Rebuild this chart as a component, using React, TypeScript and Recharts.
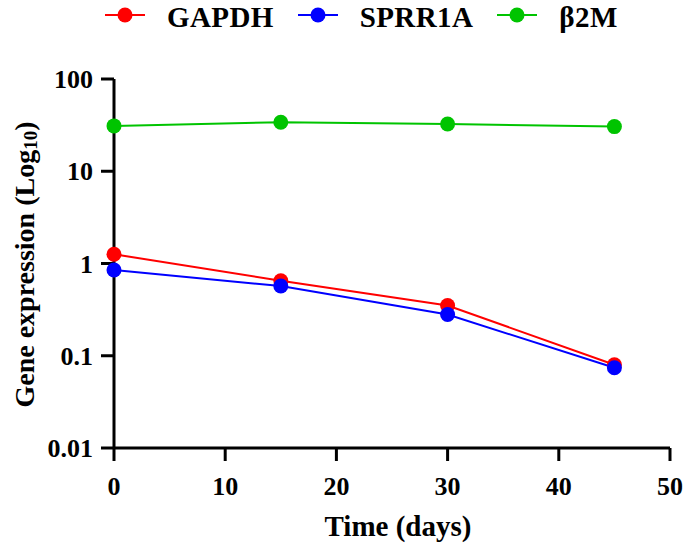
import React from "react";
import { Line, LineChart, XAxis, YAxis } from "recharts";

const days = [0, 15, 30, 45];
const gapdh = [1.26, 0.65, 0.35, 0.08];
const sprr1a = [0.85, 0.57, 0.28, 0.074];
const b2m = [31, 34, 32.5, 30.5];

const xTicks = [0, 10, 20, 30, 40, 50];
const yTicks = [0.01, 0.1, 1, 10, 100];

const series = [
  { key: "gapdh", name: "GAPDH", color: "#ff0000" },
  { key: "sprr1a", name: "SPRR1A", color: "#0000ff" },
  { key: "b2m", name: "β2M", color: "#00c400" },
];

const data = days.map((day, i) => ({
  day,
  gapdh: gapdh[i],
  sprr1a: sprr1a[i],
  b2m: b2m[i],
}));

const FONT = '"Liberation Serif", "Times New Roman", serif';

function Legend() {
  return (
    <div
      style={{
        position: "absolute",
        top: 2,
        left: 105,
        height: 30,
        display: "flex",
        alignItems: "center",
        gap: 24,
        fontFamily: FONT,
        fontWeight: "bold",
        fontSize: 29,
        lineHeight: "30px",
        color: "#000",
        whiteSpace: "nowrap",
      }}
    >
      {series.map((s) => (
        <div key={s.key} style={{ display: "flex", alignItems: "center" }}>
          <svg width={40} height={20} style={{ position: "relative", top: -2 }}>
            <line x1={0} y1={10} x2={40} y2={10} stroke={s.color} strokeWidth={2} />
            <circle cx={20} cy={10} r={7.5} fill={s.color} />
          </svg>
          <span style={{ marginLeft: 22, letterSpacing: 0.4 }}>{s.name}</span>
        </div>
      ))}
    </div>
  );
}

export default function App() {
  return (
    <div style={{ position: "absolute", left: 0, top: 0, width: 685, height: 548, background: "#fff" }}>
      <LineChart width={685} height={548} data={data} margin={{ top: 79, right: 15, bottom: 0, left: 0 }}>
        <XAxis
          dataKey="day"
          type="number"
          domain={[0, 50]}
          ticks={xTicks}
          height={100}
          stroke="#000"
          strokeWidth={3}
          tickSize={13}
          tickMargin={16}
          tick={{ fill: "#000", fontSize: 26, fontWeight: "bold", fontFamily: FONT }}
          label={{
            content: ({ viewBox }: any) => (
              <text
                x={viewBox.x + viewBox.width / 2 + 6}
                y={536}
                textAnchor="middle"
                fontFamily={FONT}
                fontWeight="bold"
                fontSize={29}
                fill="#000"
              >
                Time (days)
              </text>
            ),
          }}
        />
        <YAxis
          scale="log"
          domain={[0.01, 100]}
          ticks={yTicks}
          allowDataOverflow
          width={114}
          stroke="#000"
          strokeWidth={3}
          tickSize={13}
          tickMargin={8}
          tickFormatter={(v: number) => String(v)}
          tick={{ fill: "#000", fontSize: 26, fontWeight: "bold", fontFamily: FONT }}
          label={{
            content: ({ viewBox }: any) => {
              const cx = 24;
              const cy = viewBox.y + viewBox.height / 2 + 1;
              return (
                <text
                  x={cx}
                  y={cy}
                  transform={`rotate(-90, ${cx}, ${cy})`}
                  textAnchor="middle"
                  dominantBaseline="central"
                  fontFamily={FONT}
                  fontWeight="bold"
                  fontSize={28}
                  fill="#000"
                >
                  Gene expression (Log
                  <tspan fontSize={19} dy={6}>10</tspan>
                  <tspan dy={-6}>)</tspan>
                </text>
              );
            },
          }}
        />
        {series.map((s) => (
          <Line
            key={s.key}
            dataKey={s.key}
            name={s.name}
            stroke={s.color}
            strokeWidth={2}
            dot={{ r: 7.5, fill: s.color, stroke: s.color, strokeWidth: 0 }}
            isAnimationActive={false}
          />
        ))}
      </LineChart>
      <Legend />
    </div>
  );
}
